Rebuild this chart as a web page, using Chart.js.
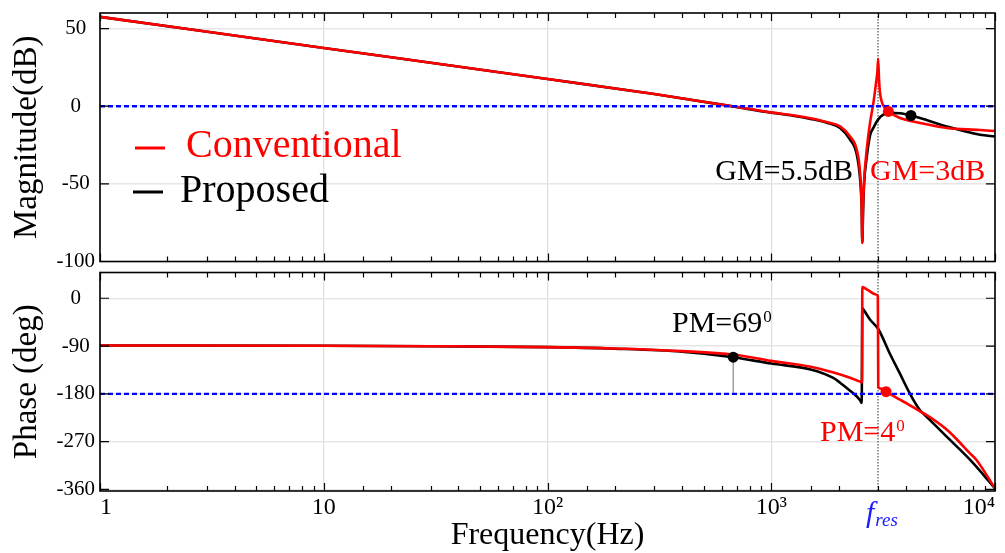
<!DOCTYPE html>
<html>
<head>
<meta charset="utf-8">
<script src="https://cdn.jsdelivr.net/npm/chart.js@4"></script>
<style>
  body { margin: 0; background: #fff; }
  #wrap { position: relative; width: 1005px; height: 553px; }
  canvas { position: absolute; left: 0; }
</style>
</head>
<body>
<div id="wrap">
  <canvas id="magChart" width="1005" height="267" style="top:0"></canvas>
  <canvas id="phaseChart" width="1005" height="286" style="top:267px"></canvas>
</div>
<script>
/* values */
const freqRange = [1, 10000];
const fRes = 3000;

const freqMagConv = [1, 10, 100, 300, 650, 1000, 1250, 1500, 1800, 2030, 2250, 2410, 2495, 2536, 2553, 2572, 2600, 2671, 2762, 2860, 2940, 2980, 3005, 3030, 3060, 3116, 3224, 3337, 3760, 4310, 5000, 6080, 8570, 10000];
const magConv = [57.5, 37.5, 17.5, 7.8, 0.3, -4, -5.8, -7.8, -10.5, -13, -19.5, -28, -43, -64, -88, -64, -48, -28, -11, 2, 15, 22, 30.5, 18, 9, 3, -1.2, -3.4, -7.6, -9.8, -11.8, -14, -15.3, -16];

const freqMagProp = [1, 10, 100, 300, 650, 1000, 1250, 1500, 1800, 2030, 2250, 2410, 2495, 2536, 2553, 2572, 2600, 2671, 2762, 2860, 3008, 3169, 3400, 3760, 4210, 4624, 6080, 8570, 10000];
const magProp = [57.5, 37.5, 17.5, 7.8, 0.2, -4.2, -6.1, -8.2, -11, -14, -21.5, -31, -47, -66, -88, -68, -50, -33, -19, -14, -8.5, -5.5, -4.3, -4.6, -6, -7.6, -13, -18.4, -19.5];

const freqPhaseConv = [1, 10, 30, 100, 200, 400, 676, 1000, 1500, 1900, 2200, 2494, 2545, 2553, 2700, 2940, 2995, 3008, 3116, 3258, 3760, 4030, 4624, 4953, 6080, 6510, 7730, 8280, 10000];
const phaseConv = [-89, -89.5, -90.3, -92, -94.5, -99.5, -106, -118, -129, -140, -148.5, -157, -158.5, 21, 15.6, 7, 4, -167.6, -170.6, -175.5, -191, -198, -213, -220, -247, -259, -292, -305, -358];

const freqPhaseProp = [1, 10, 30, 100, 200, 400, 676, 1000, 1500, 1893, 2030, 2250, 2400, 2494, 2536, 2553, 2578, 2762, 3008, 3395, 3760, 4170, 4624, 4782, 6080, 7730, 10000];
const phaseProp = [-89, -89.5, -90.3, -92, -95, -100.7, -111, -123, -134, -150, -159, -174, -184, -192, -197, -19, -21, -40, -58, -105, -142, -180, -211, -217, -260.7, -304, -358];

// margin markers [freq, value]
const gmConvPoint = [3337, -3.4];
const gmPropPoint = [4210, -6];
const pmPropPoint = [676, -111];
const pmConvPoint = [3258, -176];

const magTicks = [50, 0, -50, -100];
const phaseTicks = [0, -90, -180, -270, -360];
const xTickLabels = ['1', '10', '10²', '10³', '10⁴'];

const FONT = '"Liberation Serif", "DejaVu Serif", serif';
const RED = '#ff0000';

function toPoints(xs, ys) {
    return xs.map((x, i) => ({ x: x, y: ys[i] }));
}

function isDecade(v) {
    const e = Math.log10(v);
    return Math.abs(e - Math.round(e)) < 1e-6;
}

function curve(xs, ys, color, order) {
    return {
        data: toPoints(xs, ys),
        borderColor: color,
        borderWidth: 2.6,
        pointRadius: 0,
        cubicInterpolationMode: 'monotone',
        order: order
    };
}

function marker(p, color) {
    return { data: [{ x: p[0], y: p[1] }], showLine: false, pointRadius: 5.5, pointBackgroundColor: color, pointBorderWidth: 0, order: 0 };
}

function refLine(y) {
    return { data: [{ x: freqRange[0], y: y }, { x: freqRange[1], y: y }], borderColor: '#0000ff', borderWidth: 2.4, borderDash: [5, 3], pointRadius: 0, order: 1 };
}

function text(ctx, str, x, y, size, color, align, style) {
    ctx.font = `${style || ''} ${size}px ${FONT}`;
    ctx.fillStyle = color;
    ctx.textAlign = align || 'left';
    ctx.textBaseline = 'alphabetic';
    ctx.fillText(str, x, y);
    return ctx.measureText(str).width;
}

// "PM=69" with a small raised 0
function pmLabel(ctx, str, x, y, color) {
    const w = text(ctx, str, x, y, 30, color);
    text(ctx, '0', x + w + 1, y - 10, 17, color);
}

function drawFrame(chart) {
    const { ctx, chartArea: a, scales } = chart;
    ctx.save();
    ctx.strokeStyle = '#000';
    ctx.lineWidth = 1.2;
    ctx.beginPath();
    scales.x.ticks.forEach((t) => {
        const x = Math.round(scales.x.getPixelForValue(t.value)) + 0.5;
        const len = isDecade(t.value) ? 8 : 5;
        ctx.moveTo(x, a.top); ctx.lineTo(x, a.top + len);
        ctx.moveTo(x, a.bottom); ctx.lineTo(x, a.bottom - len);
    });
    scales.y.ticks.forEach((t) => {
        const y = scales.y.getPixelForValue(t.value);
        ctx.moveTo(a.left, y); ctx.lineTo(a.left + 9, y);
        ctx.moveTo(a.right, y); ctx.lineTo(a.right - 9, y);
    });
    ctx.stroke();
    ctx.lineWidth = 1.6;
    ctx.strokeRect(a.left, a.top, a.right - a.left, a.bottom - a.top);
    ctx.restore();
}

function drawResLine(chart, y0, y1) {
    const { ctx, scales } = chart;
    const x = scales.x.getPixelForValue(fRes);
    ctx.save();
    ctx.strokeStyle = '#555';
    ctx.lineWidth = 1.2;
    ctx.setLineDash([1.5, 1.5]);
    ctx.beginPath();
    ctx.moveTo(x, y0);
    ctx.lineTo(x, y1);
    ctx.stroke();
    ctx.restore();
}

function baseOptions(yTicks, yMin, yMax, yTitle, padding, showX) {
    return {
        responsive: false,
        animation: false,
        devicePixelRatio: 1,
        layout: { padding: padding },
        plugins: { legend: { display: false }, tooltip: { enabled: false } },
        scales: {
            x: {
                type: 'logarithmic',
                min: freqRange[0],
                max: freqRange[1],
                border: { display: false },
                grid: {
                    drawTicks: false,
                    lineWidth: 1.3,
                    color: (c) => (c.tick && isDecade(c.tick.value) ? '#e0e0e0' : 'rgba(0,0,0,0)')
                },
                ticks: {
                    display: showX,
                    autoSkip: false,
                    maxRotation: 0,
                    align: 'inner',
                    padding: 2,
                    color: '#000',
                    font: { family: FONT, size: 24 },
                    callback: (v) => (isDecade(v) ? xTickLabels[Math.round(Math.log10(v))] : '')
                },
                title: {
                    display: showX,
                    text: 'Frequency(Hz)',
                    color: '#000',
                    font: { family: FONT, size: 32, lineHeight: 1 },
                    padding: { top: 0, bottom: 1 }
                },
                afterFit: (s) => {
                    s.height = showX ? 62 : 0;
                    s.paddingLeft = 0;
                    s.paddingRight = 0;
                }
            },
            y: {
                min: yMin,
                max: yMax,
                border: { display: false },
                grid: { drawTicks: false, color: '#e6e6e6', lineWidth: 1.5 },
                afterBuildTicks: (s) => { s.ticks = yTicks.map((v) => ({ value: v })); },
                ticks: {
                    crossAlign: 'center',
                    padding: 5,
                    color: '#000',
                    font: { family: FONT, size: 21 }
                },
                title: {
                    display: true,
                    text: yTitle,
                    color: '#000',
                    font: { family: FONT, size: 33 },
                    padding: { top: 8, bottom: 0 }
                },
                afterFit: (s) => {
                    s.width = 100;
                    s.paddingTop = 0;
                    s.paddingBottom = 0;
                }
            }
        }
    };
}

function mainEvent() {
    const magCanvas = document.querySelector('#magChart');
    const phaseCanvas = document.querySelector('#phaseChart');

    const magChart = new Chart(magCanvas, {
        type: 'line',
        data: {
            datasets: [
                curve(freqMagConv, magConv, RED, 2),
                curve(freqMagProp, magProp, '#000', 3),
                refLine(0),
                marker(gmConvPoint, RED),
                marker(gmPropPoint, '#000')
            ]
        },
        options: baseOptions(magTicks, -100, 60, 'Magnitude(dB)', { top: 13, right: 10, bottom: 5, left: 0 }, false),
        plugins: [{
            id: 'magExtras',
            beforeDatasetsDraw: (chart) => drawResLine(chart, chart.chartArea.top, chart.height),
            afterDraw: (chart) => {
                const ctx = chart.ctx;
                drawFrame(chart);
                ctx.save();
                ctx.lineWidth = 3;
                ctx.strokeStyle = RED;
                ctx.beginPath(); ctx.moveTo(135, 148); ctx.lineTo(165, 148); ctx.stroke();
                ctx.strokeStyle = '#000';
                ctx.beginPath(); ctx.moveTo(133, 192); ctx.lineTo(163, 192); ctx.stroke();
                text(ctx, 'Conventional', 186, 157, 40, RED);
                text(ctx, 'Proposed', 180, 202, 40, '#000');
                text(ctx, 'GM=5.5dB', 853, 180, 30, '#000', 'right');
                text(ctx, 'GM=3dB', 870, 180, 30, RED);
                ctx.restore();
            }
        }]
    });

    const phaseChart = new Chart(phaseCanvas, {
        type: 'line',
        data: {
            datasets: [
                curve(freqPhaseConv, phaseConv, RED, 2),
                curve(freqPhaseProp, phaseProp, '#000', 3),
                refLine(-180),
                { data: [{ x: pmPropPoint[0], y: pmPropPoint[1] }, { x: pmPropPoint[0], y: -180 }], borderColor: '#888', borderWidth: 1.2, pointRadius: 0, order: 4 },
                marker(pmPropPoint, '#000'),
                marker(pmConvPoint, RED)
            ]
        },
        options: baseOptions(phaseTicks, -363, 48.5, 'Phase (deg)', { top: 4, right: 10, bottom: 0, left: 0 }, true),
        plugins: [{
            id: 'phaseExtras',
            beforeDatasetsDraw: (chart) => drawResLine(chart, 0, chart.chartArea.bottom),
            afterDraw: (chart) => {
                const ctx = chart.ctx;
                drawFrame(chart);
                ctx.save();
                pmLabel(ctx, 'PM=69', 672, 65, '#000');
                pmLabel(ctx, 'PM=4', 820, 174, RED);
                const fx = chart.scales.x.getPixelForValue(fRes);
                const w = text(ctx, 'f', fx - 12, 255, 30, '#1a1aff', 'left', 'italic');
                text(ctx, 'res', fx - 12 + w + 1, 259, 19, '#1a1aff', 'left', 'italic');
                ctx.restore();
            }
        }]
    });
    console.log('charts drawn', magChart.chartArea, phaseChart.chartArea);
}

document.addEventListener('DOMContentLoaded', () => mainEvent());
</script>
</body>
</html>
